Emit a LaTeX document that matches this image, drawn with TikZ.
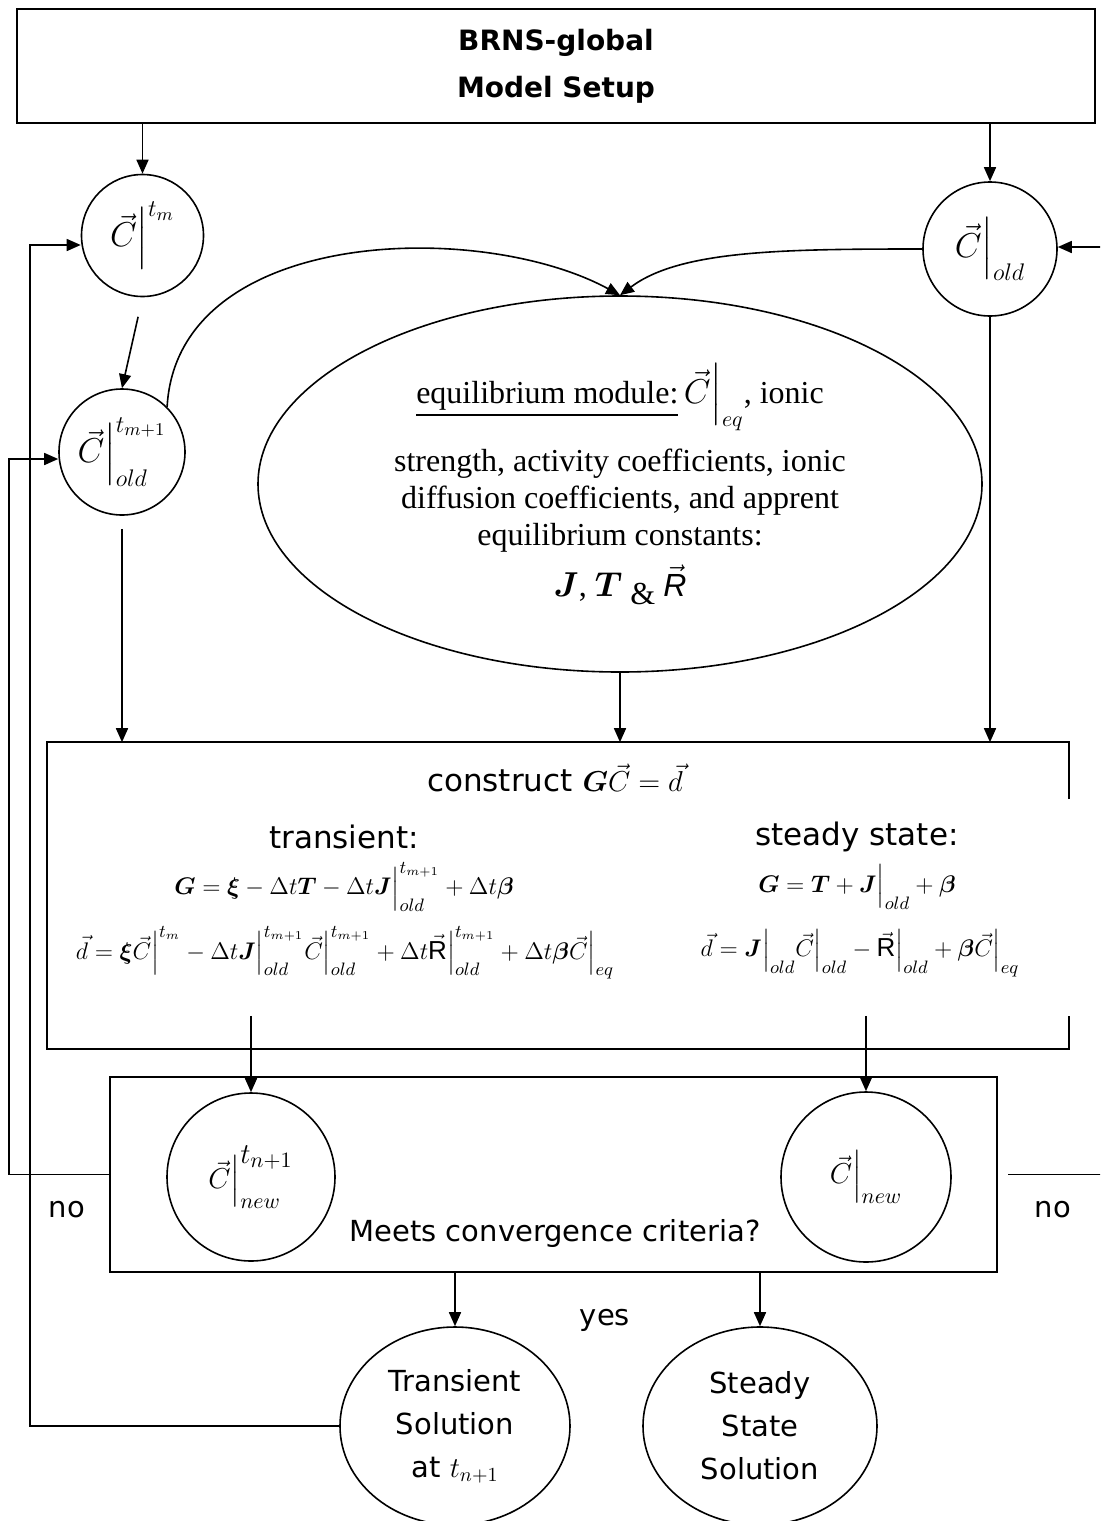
\documentclass[tikz,border=0pt]{standalone}
\usepackage{amsmath}
\usepackage{fontspec}
\setmainfont{Liberation Serif}
\setsansfont{Liberation Sans}
\newfontfamily\labelfont{DejaVu Sans}
\usetikzlibrary{arrows.meta,shapes.geometric}

\newcommand{\bsym}[1]{\boldsymbol{#1}}
\newcommand{\evbar}{\Big|}

\begin{document}
\begin{tikzpicture}[-,>={Triangle[length=7pt,width=6pt]},thick,x=0.5pt,y=-0.5pt,
  box node/.style={rectangle,draw,line width=1.2pt,inner sep=0pt},
  open node/.style={rectangle,inner sep=0pt},
  circ node/.style={circle,draw,inner sep=0pt,font=\fontsize{18}{20}\selectfont},
  oval node/.style={ellipse,draw,inner sep=0pt},
  text node/.style={font=\labelfont\fontsize{14.5}{21.5}\selectfont,align=center},
  eq node/.style={font=\fontsize{13}{16}\selectfont}]

  \useasboundingbox (0,0) rectangle (1100,1521);
  \clip (0,0) rectangle (1100,1521);

  % boxes
  \node[box node,minimum width=539pt,minimum height=57pt,
        font=\labelfont\bfseries\fontsize{14}{23.5}\selectfont,align=center]
        (setup) at (556,66) {\raisebox{-2pt}{BRNS-global}\\\raisebox{-2pt}{Model Setup}};
  \node[open node,minimum width=510pt,minimum height=152.5pt] (cons) at (558,895.5) {};
  \node[box node,minimum width=443.5pt,minimum height=97.5pt] (meets) at (553.5,1174.5) {};

  % concentration nodes
  \node[circ node,minimum size=61pt] (c1) at (142.5,235.5) {$\vec{C}\evbar^{t_m}$};
  \node[circ node,minimum size=63pt] (c2) at (122,452) {$\vec{C}\evbar^{t_{m+1}}_{old}$};
  \node[circ node,minimum size=67pt] (cold) at (990,249) {$\vec{C}\evbar_{old}$};
  \node[oval node,minimum width=362pt,minimum height=188pt,
        font=\fontsize{16}{18.5}\selectfont,align=center] (ell) at (620,484)
    {\underline{equilibrium module:}\,$\vec{C}\evbar_{eq}$, ionic\\[8pt]
     strength, activity coefficients, ionic\\
     diffusion coefficients, and apprent\\
     equilibrium constants:\\[5pt]
     $\bsym{J}$, $\bsym{T}$ \raisebox{-4pt}{\&} $\vec{\textsf{\itshape R}}$};
  \node[circ node,minimum size=84pt,font=\fontsize{15}{18}\selectfont] (n1) at (251,1177)
    {$\vec{C}\evbar^{\textstyle t_{n+1}}_{new}$};
  \node[circ node,minimum size=85pt,font=\fontsize{15}{18}\selectfont] (n2) at (866,1177)
    {$\vec{C}\evbar_{new}$};
  \node[oval node,minimum width=115pt,minimum height=99pt,text node] (trans) at (455,1426)
    {Transient\\Solution\\at $t_{n+1}$};
  \node[oval node,minimum width=117pt,minimum height=99pt,text node] (steady) at (760,1426)
    {Steady\\State\\Solution};

  % texts
  \node[text node,font=\labelfont\fontsize{15.5}{18}\selectfont] (ctitle) at (555,778)
    {construct $\bsym{G}\vec{C}=\vec{d}$};
  \node[text node,font=\labelfont\fontsize{15.5}{18}\selectfont] (ttr) at (344,837) {transient:};
  \node[text node,font=\labelfont\fontsize{15.5}{18}\selectfont] (tss) at (857,837) {steady state:};
  \node[eq node] (gtr) at (344,887)
    {$\bsym{G}=\bsym{\xi}-\Delta t\bsym{T}-\Delta t\bsym{J}\evbar^{t_{m+1}}_{old}+\Delta t\bsym{\beta}$};
  \node[eq node] (gss) at (857,887)
    {$\bsym{G}=\bsym{T}+\bsym{J}\evbar_{old}+\bsym{\beta}$};
  \node[eq node] (dtr) at (345,953)
    {$\vec{d}=\bsym{\xi}\vec{C}\evbar^{t_m}-\Delta t\bsym{J}\evbar^{t_{m+1}}_{old}\vec{C}\evbar^{t_{m+1}}_{old}
      +\Delta t\vec{\textsf{R}}\evbar^{t_{m+1}}_{old}+\Delta t\bsym{\beta}\vec{C}\evbar_{eq}$};
  \node[eq node] (dss) at (860,953)
    {$\vec{d}=\bsym{J}\evbar_{old}\vec{C}\evbar_{old}-\vec{\textsf{R}}\evbar_{old}+\bsym{\beta}\vec{C}\evbar_{eq}$};
  \node[text node] (mcc) at (555,1233) {Meets convergence criteria?};
  \node[text node] (no1) at (67,1210) {no};
  \node[text node] (no2) at (1053,1210) {no};
  \node[text node] (yes) at (605,1320) {yes};

  % outline of the construct box
  \draw[line width=1.2pt] ([yshift=-28.5pt]cons.north east) -- (cons.north east) -- (cons.north west)
    -- (cons.south west) -- (cons.south east) -- ([yshift=16.5pt]cons.south east);

  \coordinate (lb1) at (9,459);
  \coordinate (lb2) at (30,245);
  \coordinate (rb) at (1115,247);

  % connectors
  \draw[->] (setup.south -| c1.north) -- (c1.north);
  \draw[->] (setup.south -| cold.north) -- (cold.north);
  \draw[->,shorten <=10pt] (c1.south) -- (c2.north);
  \draw[->] (c2.north east) .. controls +(10,-180) and +(-140,-76) .. (ell.north);
  \draw[->] (cold.west) .. controls +(-140,0) and +(60,-45) .. (ell.north);
  \draw[->,shorten <=6.5pt] (c2.south) -- (c2.south |- cons.north);
  \draw[->] (ell.south) -- (ell.south |- cons.north);
  \draw[->] (cold.south) -- (cold.south |- cons.north);
  \draw[->] ([yshift=16.5pt]cons.south -| n1.north) -- (n1.north);
  \draw[->] ([yshift=16.5pt]cons.south -| n2.north) -- (n2.north);
  \draw[->] (meets.south -| trans.north) -- (trans.north);
  \draw[->] (meets.south -| steady.north) -- (steady.north);
  \draw[->] (meets.west) -| (lb1) -- (lb1 -| c2.west);
  \draw[->] (trans.west) -| (lb2) -- (lb2 -| c1.west);
  \draw[->,shorten <=5pt] (meets.east) -| (rb) -- (rb -| cold.east);
\end{tikzpicture}
\end{document}
